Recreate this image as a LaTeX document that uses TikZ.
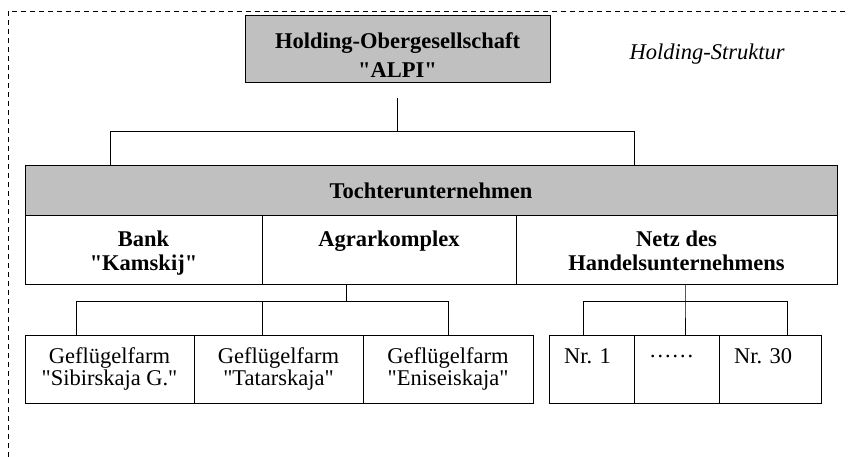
\documentclass[tikz,border=0pt]{standalone}
\usepackage{fontspec}
\setmainfont{Liberation Serif}
\usepackage{xcolor}
\usepackage{tikz}
\usetikzlibrary{positioning}

\definecolor{headgray}{HTML}{C0C0C0}
% fixe Zeilenhoehe oben / Unterlaenge unten
\newcommand{\lnup}[1]{\rule{0pt}{#1}}
\newcommand{\lndn}{\rule[-5pt]{0pt}{5pt}}
\newcommand{\qq}{\textquotedbl}

\begin{document}
\begin{tikzpicture}[x=1pt,y=-1pt,line width=1pt]
      \tikzstyle{box}=[draw,rectangle,outer sep=0pt,inner sep=0pt,align=center,
                       minimum height=68pt,font=\fontsize{22.5}{20}\selectfont]
      \tikzstyle{head}=[box,fill=headgray,font=\bfseries\fontsize{22.5}{29}\selectfont]
      \tikzstyle{sub}=[box,font=\bfseries\fontsize{22.5}{24}\selectfont]
      \tikzstyle{nrbox}=[box,align=left,inner xsep=15pt,text width=55pt]

      \useasboundingbox (0,0) rectangle (849,457);
      \draw[line width=0.8pt,dash pattern=on 5pt off 4pt] (8,457) -- (8,11) -- (849,11);

      % Obergesellschaft
      \node[head,minimum width=305pt,minimum height=67pt,anchor=north west] (alpi) at (245,16)
            {\lnup{33pt}Holding-Obergesellschaft\\\qq ALPI\qq\lndn};
      \node[anchor=base,font=\itshape\fontsize{22.5}{24}\selectfont] (title) at (707,60) {Holding-Struktur};

      % Tochterunternehmen
      \node[head,minimum width=812pt,minimum height=50pt,anchor=north west] (tochter) at (25,166)
            {Tochterunternehmen};
      \node[sub,minimum width=237pt,anchor=north west] (bank) at (25,216)
            {\lnup{22.4pt}Bank\\\qq Kamskij\qq\lndn};
      \node[sub,minimum width=254pt,right=0pt of bank] (agrar) {\lnup{22.4pt}Agrarkomplex\\\lndn};
      \node[sub,minimum width=321pt,right=0pt of agrar] (netz)
            {\lnup{22.4pt}Netz des\\Handelsunternehmens\lndn};

      % Agrarkomplex
      \node[box,minimum width=169pt,anchor=north west] (farm1) at (25,335) {Geflügelfarm\\\qq Sibirskaja G.\qq};
      \node[box,minimum width=169pt,right=0pt of farm1] (farm2) {Geflügelfarm\\\qq Tatarskaja\qq};
      \node[box,minimum width=170pt,right=0pt of farm2] (farm3) {Geflügelfarm\\\qq Eniseiskaja\qq};

      % Handelsnetz
      \node[nrbox,anchor=north west] (nr1) at (549,335) {Nr.\ 1\\\strut};
      \node[nrbox,right=0pt of nr1] (dots) {……\\\strut};
      \node[nrbox,text width=72pt,right=0pt of dots] (nr30) {Nr.\ 30\\\strut};

      \coordinate (stem) at (397.5,98);
      \coordinate (tl) at (110,132);
      \coordinate (tr) at (634,132);
      \coordinate (fl) at (76,301.5);
      \coordinate (fm) at (262,301.5);
      \coordinate (fs) at (346.7,301.5);
      \coordinate (fr) at (448,301.5);
      \coordinate (nl) at (583,301.5);
      \coordinate (nm) at (685,301.5);
      \coordinate (nr) at (787,301.5);

      \draw (stem) -- (stem |- tl);
      \draw (tochter.north -| tl) -- (tl) -- (tr) -- (tochter.north -| tr);
      \draw (agrar.south -| fs) -- (fs);
      \draw (farm1.north -| fl) -- (fl) -- (fr) -- (farm3.north -| fr);
      \draw (fm) -- (farm2.north -| fm);
      \draw (netz.south -| nm) -- (nm) -- (dots.north -| nm);
      \draw (nr1.north -| nl) -- (nl) -- (nr) -- (nr30.north -| nr);
\end{tikzpicture}
\end{document}
